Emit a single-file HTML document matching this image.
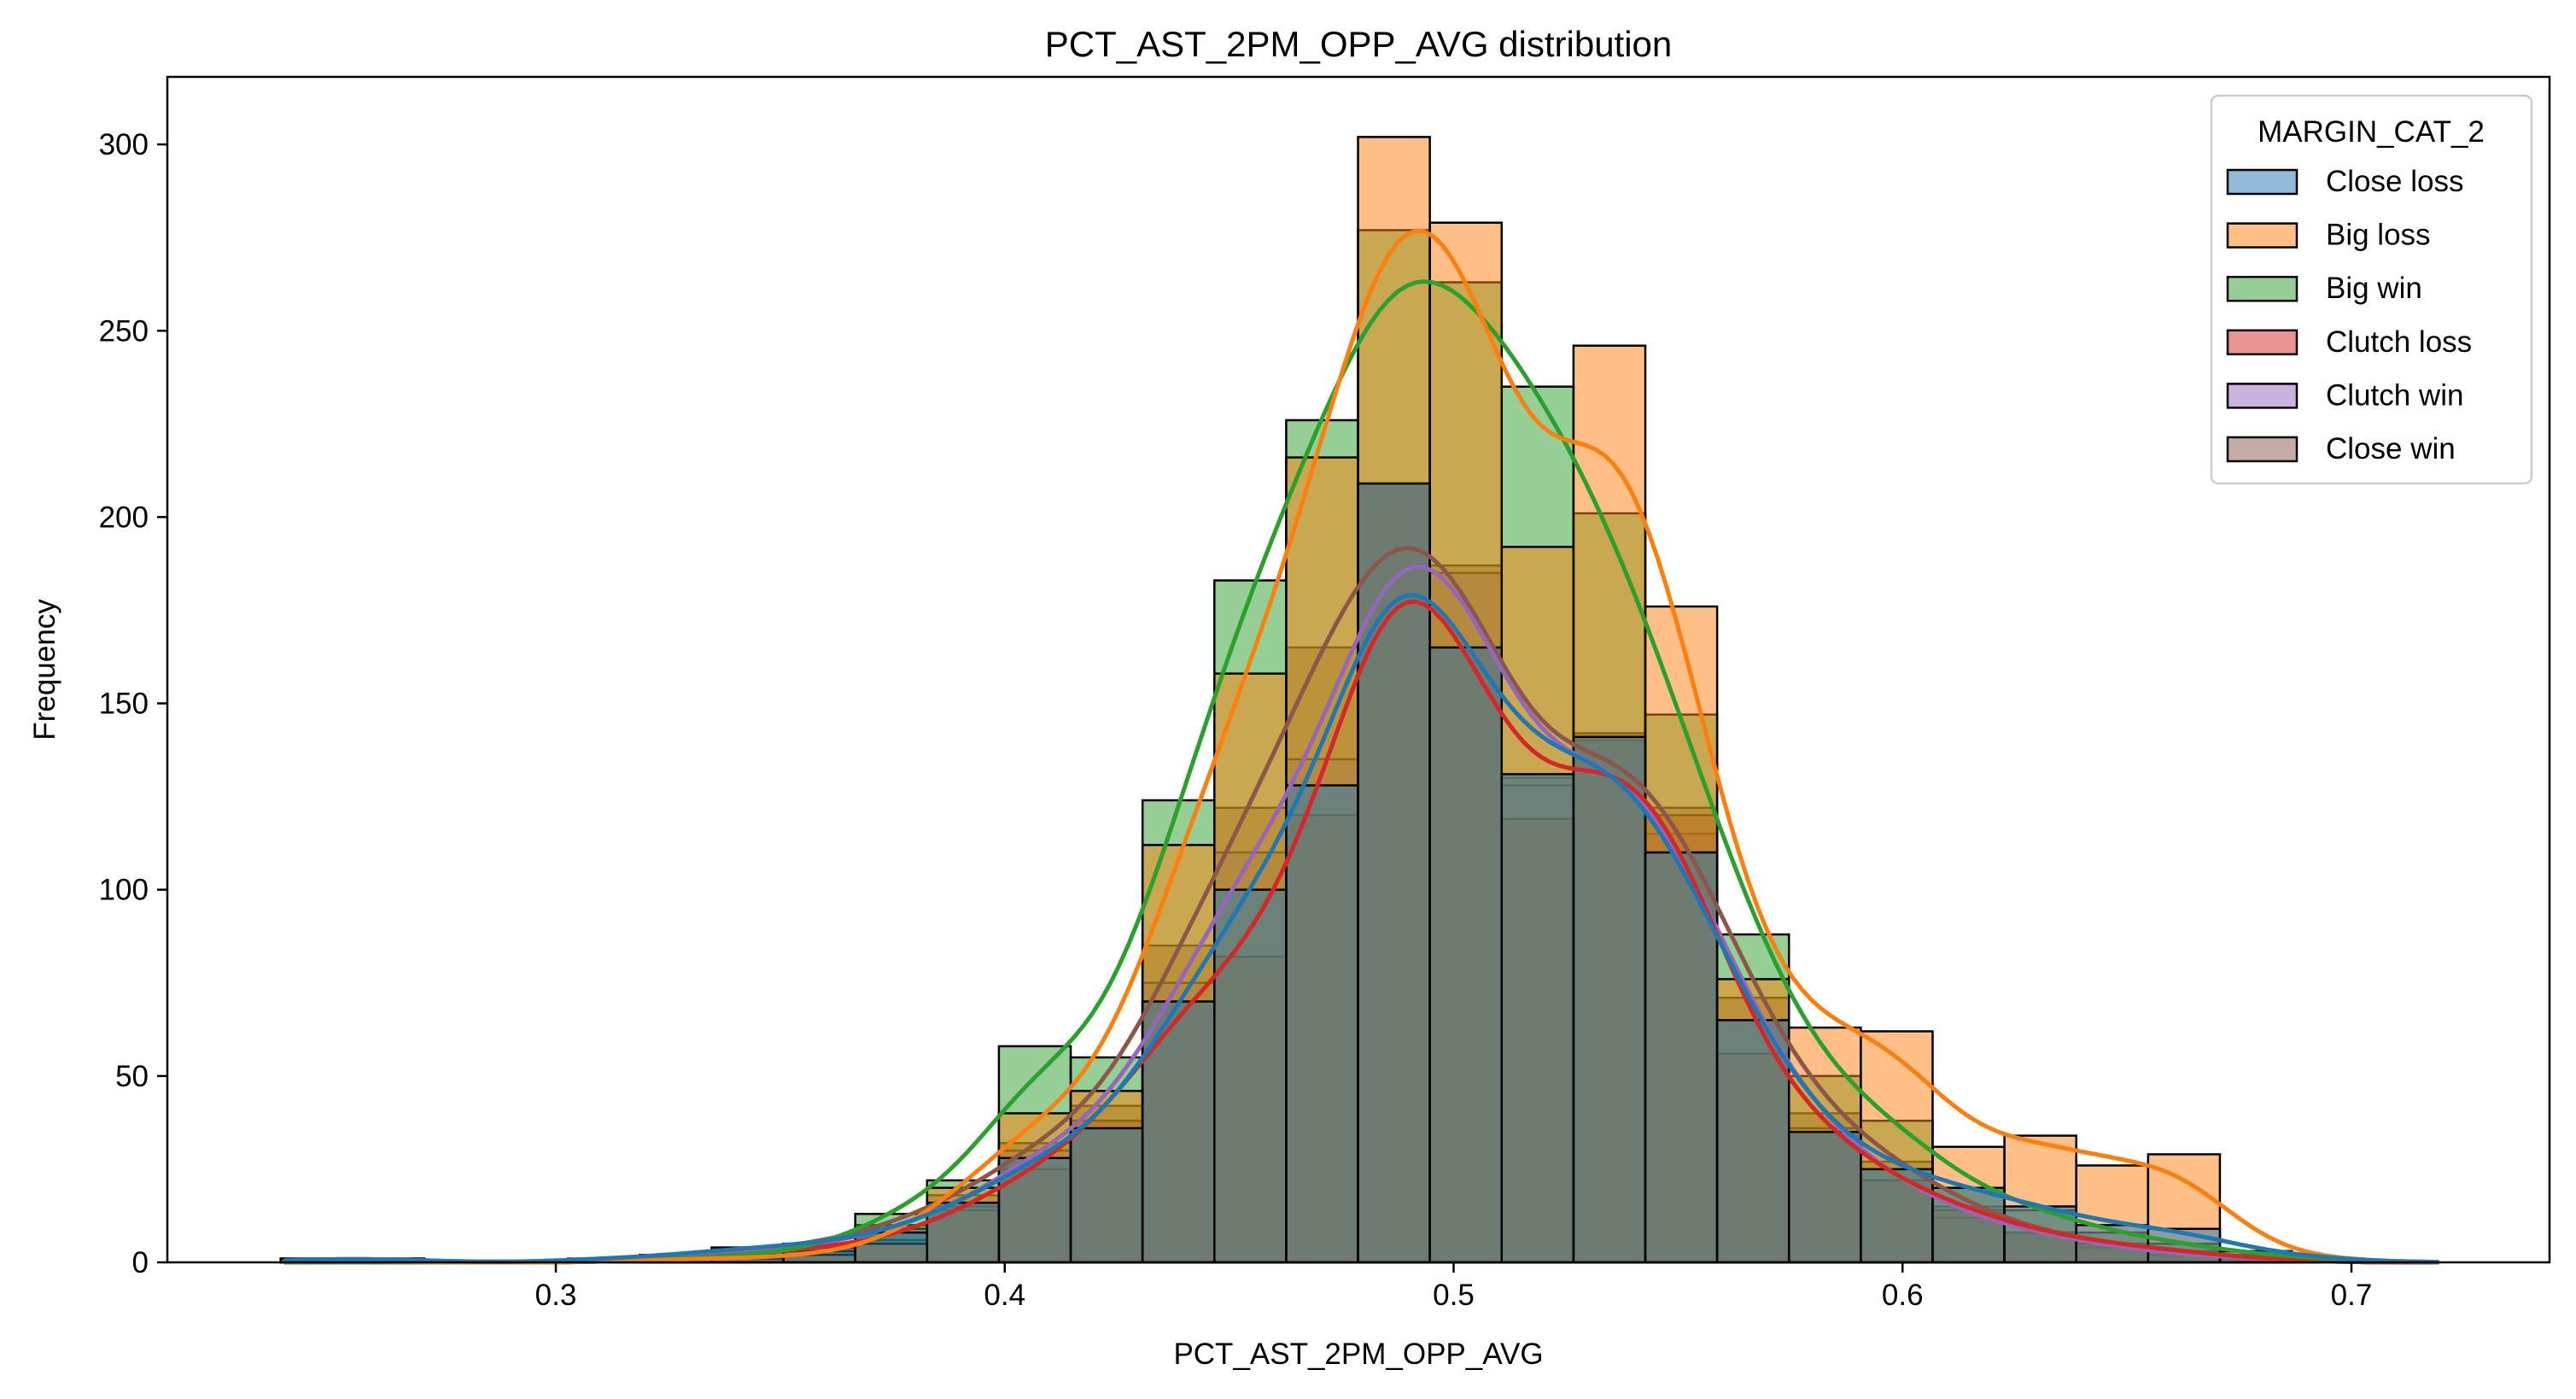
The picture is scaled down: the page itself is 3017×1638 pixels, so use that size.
<!DOCTYPE html>
<html><head><meta charset="utf-8">
<style>
html,body{margin:0;padding:0;background:#fff;}
svg{display:block;font-family:"Liberation Sans","DejaVu Sans",sans-serif;}
</style></head>
<body>
<svg id="chart" width="3017" height="1638" viewBox="0 0 3017 1638" xmlns="http://www.w3.org/2000/svg">
<rect x="0" y="0" width="3017" height="1638" fill="#fff"/>
<text x="1591" y="66" font-size="42" text-anchor="middle" fill="#000">PCT_AST_2PM_OPP_AVG distribution</text>
<text x="1591" y="1597" font-size="35" text-anchor="middle" fill="#000">PCT_AST_2PM_OPP_AVG</text>
<text transform="translate(64,784) rotate(-90)" font-size="35" text-anchor="middle" fill="#000">Frequency</text>
<g id="bars"></g>
<g id="lines"></g>
<g id="axes"></g>
<g id="legend"></g>
</svg>
<script>
const seriesNames = ["Close loss","Big loss","Big win","Clutch loss","Clutch win","Close win"];
const seriesColors = ["#1f77b4","#ff7f0e","#2ca02c","#d62728","#9467bd","#8c564b"];
const binStart = 0.2387;
const binWidth = 0.016;
const closeLoss = [1,1,0,0,1,2,4,5,8,16,28,36,70,100,128,209,165,131,141,110,65,35,25,20,15,10,9,3,1,0];
const bigLoss   = [1,0,0,0,0,1,1,2,5,20,40,46,112,158,216,302,279,192,246,176,76,63,62,31,34,26,29,3,1,0];
const bigWin    = [0,0,0,0,0,1,2,3,13,22,58,55,124,183,226,277,263,235,201,147,88,50,38,20,14,8,5,2,1,0];
const clutchLoss= [0,0,0,0,0,1,2,4,6,14,25,38,70,82,120,209,165,119,142,120,56,35,22,14,8,5,3,1,0,0];
const clutchWin = [1,1,0,0,0,1,3,4,9,15,30,38,75,110,135,209,185,128,140,115,65,36,22,12,8,4,2,1,0,0];
const closeWin  = [1,1,0,0,1,2,3,5,10,18,32,42,85,122,165,209,187,130,142,122,71,40,27,15,8,5,3,1,0,0];
const xTicks = [0.3,0.4,0.5,0.6,0.7];
const xTickLabels = ["0.3","0.4","0.5","0.6","0.7"];
const yTicks = [0,50,100,150,200,250,300];
const yTickLabels = ["0","50","100","150","200","250","300"];

const allSeries = [closeLoss,bigLoss,bigWin,clutchLoss,clutchWin,closeWin];
const L=196,R=2986,T=90,B=1478;
function xs(v){return 651+(v-0.3)*5257.5;}
function ys(v){return 1478-v*4.363;}
const NS="http://www.w3.org/2000/svg";
function mk(tag,attrs,parent){const e=document.createElementNS(NS,tag);for(const k in attrs)e.setAttribute(k,attrs[k]);parent.appendChild(e);return e;}
const bars=document.getElementById('bars');
for(let s=allSeries.length-1;s>=0;s--){
  const g=mk('g',{},bars);
  
  
  allSeries[s].forEach((c,i)=>{
    if(c<=0)return;
    const x0=xs(binStart+i*binWidth),x1=xs(binStart+(i+1)*binWidth);
    const r=mk('rect',{x:x0,y:ys(c),width:x1-x0,height:ys(0)-ys(c),fill:seriesColors[s],'fill-opacity':0.5,stroke:'#000','stroke-width':2.5},g);
    
    
  });
}
const lines=document.getElementById('lines');
const h=0.0125;
for(let s=allSeries.length-1;s>=0;s--){
  const d=allSeries[s];let pts=[];
  for(let x=0.2395;x<=0.7205;x+=0.002){
    let v=0;
    d.forEach((c,i)=>{const m=binStart+(i+0.5)*binWidth;const z=(x-m)/h;v+=c*Math.exp(-0.5*z*z)/(h*Math.sqrt(2*Math.PI));});
    v*=binWidth;
    pts.push(xs(x).toFixed(1)+','+ys(v).toFixed(1));
  }
  const p=mk('polyline',{points:pts.join(' '),fill:'none',stroke:seriesColors[s],'stroke-width':5,'stroke-linejoin':'round'},lines);
  
  
}
const axes=document.getElementById('axes');
const frame=mk('rect',{x:L,y:T,width:R-L,height:B-T,fill:'none',stroke:'#000','stroke-width':2.5},axes);


xTicks.forEach((v,i)=>{
  mk('line',{x1:xs(v),x2:xs(v),y1:B,y2:B+12,stroke:'#000','stroke-width':2.5},axes);
  const t=mk('text',{x:xs(v),y:B+50,'font-size':35,'text-anchor':'middle',fill:'#000'},axes);
  t.textContent=xTickLabels[i];
  
  
});
yTicks.forEach((v,i)=>{
  mk('line',{x1:L-12,x2:L,y1:ys(v),y2:ys(v),stroke:'#000','stroke-width':2.5},axes);
  const t=mk('text',{x:L-22,y:ys(v)+12,'font-size':35,'text-anchor':'end',fill:'#000'},axes);
  t.textContent=yTickLabels[i];
  
  
});
const lg=document.getElementById('legend');
const box=mk('rect',{x:2590,y:112,width:375,height:454,rx:8,fill:'#fff','fill-opacity':0.8,stroke:'#ccc','stroke-width':2.5},lg);


const lt=mk('text',{x:2777,y:166,'font-size':35,'text-anchor':'middle',fill:'#000'},lg);
lt.textContent='MARGIN_CAT_2';


seriesNames.forEach((n,i)=>{
  const cy=212+i*62.6;
  const g=mk('g',{},lg);
  
  
  mk('rect',{x:2609,y:cy-13,width:81,height:28,fill:seriesColors[i],'fill-opacity':0.5,stroke:'#000','stroke-width':2.5},g);
  const t=mk('text',{x:2724,y:cy+12,'font-size':35,fill:'#000'},g);
  t.textContent=n;
});
</script>
</body></html>
